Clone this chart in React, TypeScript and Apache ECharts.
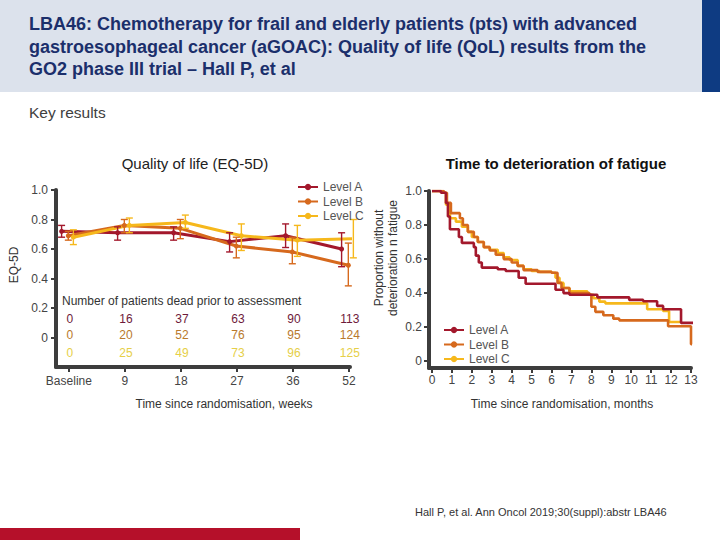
import React, { useEffect, useRef } from "react";
import * as echarts from "echarts";

const FONT = "'Liberation Sans', Arial, sans-serif";

// ---- Quality of life (EQ-5D) ----
const weekLabels = ["Baseline", "9", "18", "27", "36", "52"];
const qolA = [0.72, 0.71, 0.71, 0.65, 0.69, 0.6];
const qolALow = [0.68, 0.66, 0.66, 0.58, 0.61, 0.48];
const qolAHigh = [0.76, 0.75, 0.75, 0.71, 0.77, 0.71];
const qolB = [0.69, 0.76, 0.74, 0.62, 0.58, 0.49];
const qolBLow = [0.66, 0.71, 0.67, 0.54, 0.5, 0.35];
const qolBHigh = [0.72, 0.8, 0.8, 0.68, 0.68, 0.64];
const qolC = [0.68, 0.76, 0.78, 0.69, 0.66, 0.67];
const qolCLow = [0.63, 0.71, 0.74, 0.59, 0.55, 0.54];
const qolCHigh = [0.73, 0.81, 0.83, 0.77, 0.76, 0.8];

const deadA = [0, 16, 37, 63, 90, 113];
const deadB = [0, 20, 52, 76, 95, 124];
const deadC = [0, 25, 49, 73, 96, 125];

// ---- Time to deterioration of fatigue (months, proportion) ----
const kmA: [number, number][] = [
  [0, 1], [0.45, 0.99], [0.7, 0.93], [0.8, 0.85], [0.9, 0.775], [1.35, 0.73], [1.5, 0.695],
  [2.1, 0.67], [2.2, 0.62], [2.35, 0.58], [2.5, 0.55], [3.3, 0.54], [3.7, 0.53], [4.35, 0.49],
  [4.7, 0.455], [6.2, 0.42], [6.6, 0.4], [6.9, 0.39], [8.3, 0.375], [9.9, 0.36], [10.6, 0.352],
  [11.3, 0.325], [11.6, 0.305], [12.5, 0.225], [13.2, 0.225],
];
const kmB: [number, number][] = [
  [0, 1], [0.6, 0.99], [0.75, 0.93], [0.95, 0.87], [1.4, 0.84], [1.55, 0.8], [1.8, 0.76],
  [2.1, 0.73], [2.3, 0.7], [2.6, 0.67], [2.9, 0.65], [3.2, 0.625], [3.6, 0.6], [4.0, 0.58],
  [4.3, 0.56], [4.6, 0.535], [5.3, 0.525], [6.0, 0.52], [6.3, 0.46], [6.5, 0.43], [6.9, 0.4],
  [7.9, 0.39], [8.0, 0.32], [8.2, 0.29], [8.6, 0.27], [9.1, 0.25], [9.4, 0.24], [11.85, 0.205],
  [13.0, 0.1], [13.05, 0.1],
];
const kmC: [number, number][] = [
  [0, 1], [0.5, 0.99], [0.7, 0.92], [0.9, 0.84], [1.2, 0.82], [1.5, 0.79], [1.8, 0.76],
  [2.0, 0.73], [2.3, 0.7], [2.6, 0.67], [2.9, 0.655], [3.3, 0.635], [3.6, 0.61], [3.9, 0.595],
  [4.3, 0.56], [4.6, 0.54], [5.0, 0.53], [5.4, 0.525], [6.0, 0.52], [6.2, 0.49], [6.4, 0.46],
  [6.6, 0.43], [6.9, 0.41], [7.8, 0.39], [8.1, 0.37], [8.4, 0.35], [8.7, 0.34], [10.8, 0.305],
  [11.6, 0.295], [11.9, 0.23], [12.5, 0.23],
];
const monthTicks = [0, 1, 2, 3, 4, 5, 6, 7, 8, 9, 10, 11, 12, 13];
const propTicks = [0, 0.2, 0.4, 0.6, 0.8, 1.0];

const names = ["Level A", "Level B", "Level C"];
const colors = ["#a3182c", "#d6691d", "#f6b81c"];
const tableColors = ["#6e1a3a", "#b9792c", "#e6cf48"];

export default function App() {
  const ref = useRef<HTMLDivElement>(null);
  useEffect(() => {
    if (!ref.current) return;
    const chart = echarts.init(ref.current, null, { renderer: "svg" });

    const dodge = [-0.13, -0.01, 0.08];
    const means = [qolA, qolB, qolC];
    const lows = [qolALow, qolBLow, qolCLow];
    const highs = [qolAHigh, qolBHigh, qolCHigh];
    const deads = [deadA, deadB, deadC];
    const rowY = [0.123, 0.017, -0.103];
    const kms = [kmA, kmB, kmC];

    const series: any[] = [];
    for (let s = 0; s < 3; s++) {
      series.push({
        name: "err" + s,
        type: "custom",
        xAxisIndex: 0,
        yAxisIndex: 0,
        data: means[s].map((_, i) => [i + dodge[s], lows[s][i], highs[s][i]]),
        encode: { x: 0, y: [1, 2] },
        z: 3,
        renderItem: (params: any, api: any) => {
          const x = api.value(0);
          const p1 = api.coord([x, api.value(1)]);
          const p2 = api.coord([x, api.value(2)]);
          const w = 3.5;
          const st = { stroke: colors[s], lineWidth: 1.4 };
          return {
            type: "group",
            children: [
              { type: "line", shape: { x1: p1[0], y1: p1[1], x2: p2[0], y2: p2[1] }, style: st },
              { type: "line", shape: { x1: p1[0] - w, y1: p1[1], x2: p1[0] + w, y2: p1[1] }, style: st },
              { type: "line", shape: { x1: p2[0] - w, y1: p2[1], x2: p2[0] + w, y2: p2[1] }, style: st },
            ],
          };
        },
      });
    }
    for (let s = 0; s < 3; s++) {
      series.push({
        name: names[s],
        type: "line",
        xAxisIndex: 0,
        yAxisIndex: 0,
        data: means[s].map((v, i) => [i + dodge[s], v]),
        symbol: "circle",
        symbolSize: 5,
        lineStyle: { width: 3, color: colors[s] },
        itemStyle: { color: colors[s] },
        z: 2,
      });
    }
    for (let s = 0; s < 3; s++) {
      series.push({
        name: "dead" + s,
        type: "custom",
        xAxisIndex: 0,
        yAxisIndex: 0,
        data: deads[s].map((v, i) => [i, rowY[s], v]),
        encode: { x: 0, y: 1 },
        renderItem: (params: any, api: any) => {
          const p = api.coord([api.value(0), api.value(1)]);
          return {
            type: "text",
            x: p[0] + 1,
            y: p[1],
            style: {
              text: String(api.value(2)),
              fill: tableColors[s],
              font: `12px ${FONT}`,
              align: "center",
              verticalAlign: "middle",
            },
          };
        },
      });
    }
    for (let s = 0; s < 3; s++) {
      series.push({
        name: names[s],
        type: "line",
        xAxisIndex: 1,
        yAxisIndex: 1,
        step: "end",
        data: kms[s],
        showSymbol: false,
        symbol: "circle",
        symbolSize: 4,
        lineStyle: { width: 2.6, color: colors[s] },
        itemStyle: { color: colors[s] },
        z: 5 - s,
      });
    }

    const axisLine = { show: true, onZero: false, lineStyle: { color: "#3d3d3d", width: 4 } };
    const axisTick = (vals: number[]) => ({
      show: true,
      length: 5,
      customValues: vals,
      lineStyle: { color: "#3d3d3d", width: 2 },
    });
    const labelStyle = { color: "#444", fontSize: 12, fontFamily: FONT };
    const legendBase = {
      data: names,
      orient: "vertical",
      itemWidth: 20,
      itemHeight: 8,
      itemGap: 2.5,
      textStyle: { color: "#555", fontSize: 12, fontFamily: FONT },
      selectedMode: false,
    };

    chart.setOption({
      animation: false,
      textStyle: { fontFamily: FONT },
      grid: [
        { left: 56, top: 190, width: 294, height: 177 },
        { left: 429, top: 191, width: 262, height: 177 },
      ],
      xAxis: [
        {
          type: "value",
          gridIndex: 0,
          min: -0.23,
          max: 5.02,
          splitLine: { show: false },
          axisLine,
          axisTick: axisTick([0, 1, 2, 3, 4, 5]),
          axisLabel: {
            ...labelStyle,
            margin: 8,
            customValues: [0, 1, 2, 3, 4, 5],
            formatter: (v: number) => weekLabels[Math.round(v)],
          },
        },
        {
          type: "value",
          gridIndex: 1,
          min: -0.15,
          max: 13,
          splitLine: { show: false },
          axisLine,
          axisTick: axisTick(monthTicks),
          axisLabel: { ...labelStyle, margin: 6, customValues: monthTicks, formatter: (v: number) => String(Math.round(v)) },
        },
      ],
      yAxis: [
        {
          type: "value",
          gridIndex: 0,
          min: -0.2,
          max: 1.0,
          splitLine: { show: false },
          axisLine,
          axisTick: axisTick(propTicks),
          axisLabel: {
            ...labelStyle,
            margin: 8,
            customValues: propTicks,
            formatter: (v: number) => (Math.abs(v) < 1e-6 ? "0" : v.toFixed(1)),
          },
        },
        {
          type: "value",
          gridIndex: 1,
          min: -0.04,
          max: 1.0,
          splitLine: { show: false },
          axisLine,
          axisTick: axisTick(propTicks),
          axisLabel: {
            ...labelStyle,
            margin: 7,
            customValues: propTicks,
            formatter: (v: number) => (Math.abs(v) < 1e-6 ? "0" : v.toFixed(1)),
          },
        },
      ],
      legend: [
        { ...legendBase, left: 292, top: 176 },
        { ...legendBase, left: 438, top: 319 },
      ],
      graphic: [
        { type: "rect", shape: { x: 0, y: 0, width: 720, height: 92 }, style: { fill: "#dce2ec" }, silent: true },
        { type: "rect", shape: { x: 702, y: 0, width: 18, height: 92 }, style: { fill: "#0e3b82" }, silent: true },
        {
          type: "text",
          x: 29,
          y: 13,
          style: {
            text:
              "LBA46: Chemotherapy for frail and elderly patients (pts) with advanced\ngastroesophageal cancer (aGOAC): Quality of life (QoL) results from the\nGO2 phase III trial – Hall P, et al",
            font: `bold 18px ${FONT}`,
            fill: "#1b2f6b",
            lineHeight: 22.5,
          },
        },
        {
          type: "text",
          x: 29,
          y: 112,
          style: { text: "Key results", font: `15.5px ${FONT}`, fill: "#404040", verticalAlign: "middle" },
        },
        {
          type: "text",
          x: 195,
          y: 163,
          style: { text: "Quality of life (EQ-5D)", font: `15px ${FONT}`, fill: "#222", align: "center", verticalAlign: "middle" },
        },
        {
          type: "text",
          x: 556,
          y: 163,
          style: { text: "Time to deterioration of fatigue", font: `bold 15px ${FONT}`, fill: "#111", align: "center", verticalAlign: "middle" },
        },
        {
          type: "text",
          x: 14,
          y: 265,
          rotation: Math.PI / 2,
          style: { text: "EQ-5D", font: `12px ${FONT}`, fill: "#333", align: "center", verticalAlign: "middle" },
        },
        {
          type: "text",
          x: 386,
          y: 258,
          rotation: Math.PI / 2,
          style: {
            text: "Proportion without\ndeterioration n fatigue",
            font: `12px ${FONT}`,
            fill: "#333",
            align: "center",
            verticalAlign: "middle",
            lineHeight: 14,
          },
        },
        {
          type: "text",
          x: 62,
          y: 301,
          style: { text: "Number of patients dead prior to assessment", font: `12px ${FONT}`, fill: "#333", verticalAlign: "middle" },
        },
        {
          type: "text",
          x: 224,
          y: 404,
          style: { text: "Time since randomisation, weeks", font: `12px ${FONT}`, fill: "#333", align: "center", verticalAlign: "middle" },
        },
        {
          type: "text",
          x: 562,
          y: 404,
          style: { text: "Time since randomisation, months", font: `12px ${FONT}`, fill: "#333", align: "center", verticalAlign: "middle" },
        },
        {
          type: "text",
          x: 415,
          y: 512,
          style: { text: "Hall P, et al. Ann Oncol 2019;30(suppl):abstr LBA46", font: `11px ${FONT}`, fill: "#333", verticalAlign: "middle" },
        },
        { type: "rect", shape: { x: 0, y: 528, width: 300, height: 12 }, style: { fill: "#b5102a" }, silent: true },
      ],
      series,
    });
    return () => chart.dispose();
  }, []);
  return <div ref={ref} style={{ position: "absolute", left: 0, top: 0, width: 720, height: 540 }} />;
}
